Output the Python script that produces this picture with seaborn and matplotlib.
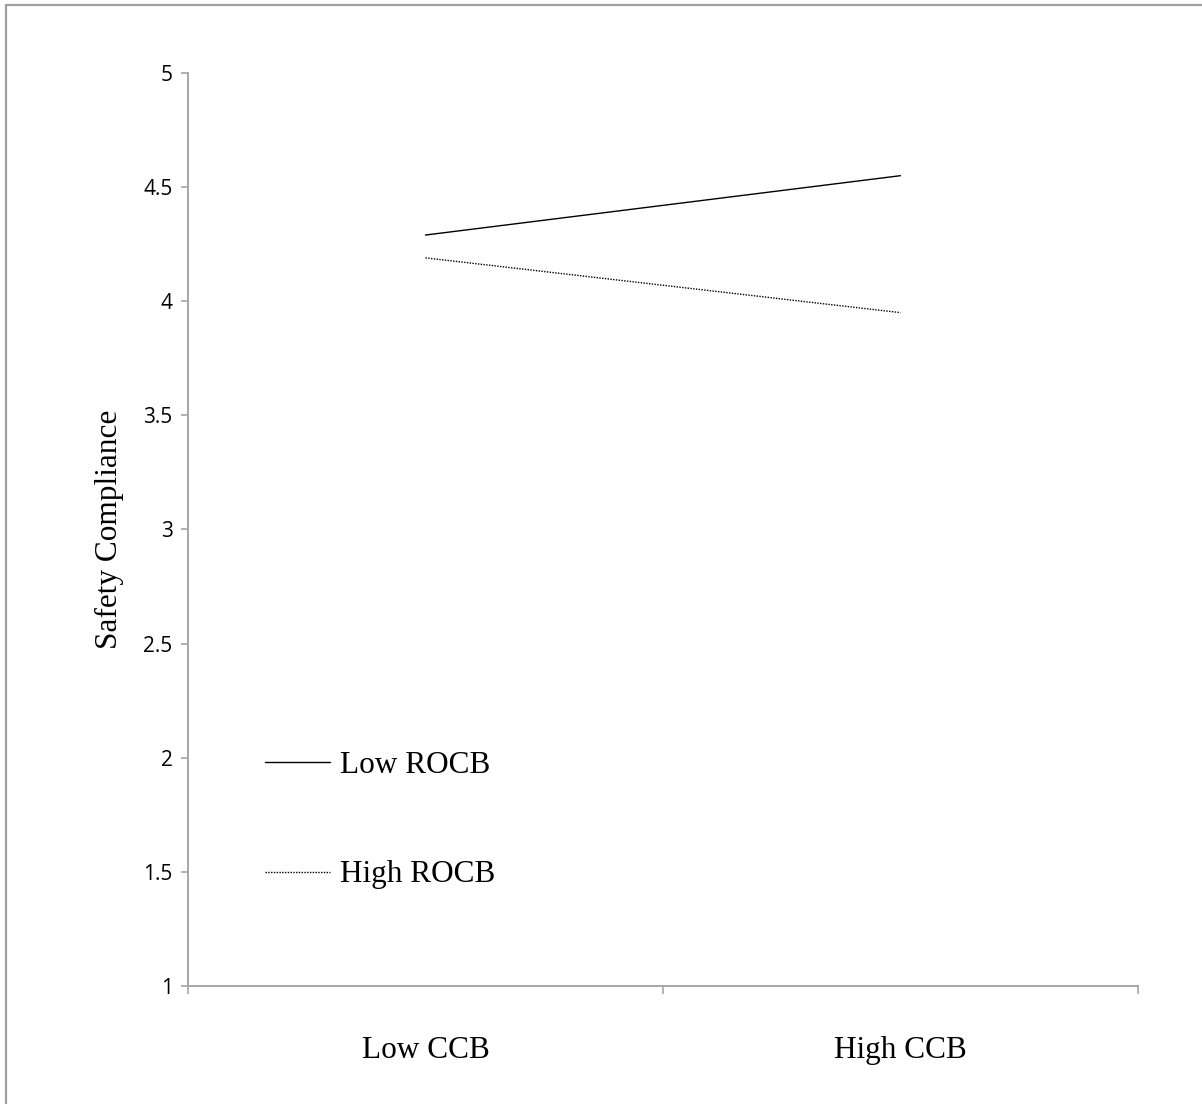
import numpy as np
import pandas as pd
import matplotlib.pyplot as plt
import seaborn as sns
from matplotlib.patches import Rectangle

sns.set_style('white')
plt.rcParams['text.color'] = 'black'
plt.rcParams['axes.labelcolor'] = 'black'
plt.rcParams['xtick.labelcolor'] = 'black'
plt.rcParams['ytick.labelcolor'] = 'black'

# data
categories = ['Low CCB', 'High CCB']
low_rocb = [4.29, 4.55]
high_rocb = [4.19, 3.95]
groups = ['Low ROCB', 'High ROCB']
y_ticks = [1, 1.5, 2, 2.5, 3, 3.5, 4, 4.5, 5]
y_tick_labels = ['1', '1.5', '2', '2.5', '3', '3.5', '4', '4.5', '5']

df = pd.DataFrame({
    'CCB': categories * 2,
    'Safety Compliance': low_rocb + high_rocb,
    'ROCB': [groups[0]] * 2 + [groups[1]] * 2,
})

serif = ['Liberation Serif', 'DejaVu Serif']
axis_gray = '#a6a6a6'

fig = plt.figure(figsize=(12.02, 11.04), dpi=100)
ax = fig.add_axes([0.1564, 0.1069, 0.7903, 0.8270])

sns.lineplot(data=df, x='CCB', y='Safety Compliance', hue='ROCB', style='ROCB',
             palette={'Low ROCB': 'black', 'High ROCB': 'black'},
             dashes={'Low ROCB': '', 'High ROCB': (1, 1)},
             linewidth=1.0, sort=False, ax=ax)

ax.set_xlim(-0.5, 1.5)
ax.set_ylim(1, 5)

# category boundaries as tick marks, labels centred between them
ax.set_xticks([-0.5, 0.5, 1.5])
ax.set_xticklabels([])
ax.set_xticks([0, 1], minor=True)
ax.set_xticklabels(categories, minor=True, fontsize=22.5, family=serif)
ax.tick_params(axis='x', which='major', direction='out', length=6, width=1.2,
               color=axis_gray, bottom=True)
ax.tick_params(axis='x', which='minor', length=0, pad=36)

ax.set_yticks(y_ticks)
ax.set_yticklabels(y_tick_labels, fontsize=15, family=['Open Sans', 'DejaVu Sans'])
ax.tick_params(axis='y', direction='out', length=5, width=1.2, color=axis_gray,
               left=True, pad=6)

ax.set_xlabel('')
ax.set_ylabel('Safety Compliance', fontsize=22.5, family=serif, labelpad=14)

for side in ['top', 'right']:
    ax.spines[side].set_visible(False)
for side in ['left', 'bottom']:
    ax.spines[side].set_color(axis_gray)
    ax.spines[side].set_linewidth(1.4)

leg = ax.legend(loc='upper left', bbox_to_anchor=(0.051, 0.288), frameon=False,
                handlelength=2.08, handletextpad=0.32, labelspacing=2.57,
                prop={'family': serif, 'size': 22.5})
for line in leg.get_lines():
    line.set_linewidth(1.0)

# outer chart frame (only top and left edges visible in the crop)
fig.patches.append(Rectangle((6 / 1202, -0.1), 1.2, 1.1 - 5 / 1104,
                             transform=fig.transFigure, fill=False,
                             edgecolor='#a0a0a0', linewidth=1.6))

fig.savefig('out.png', dpi=100)
